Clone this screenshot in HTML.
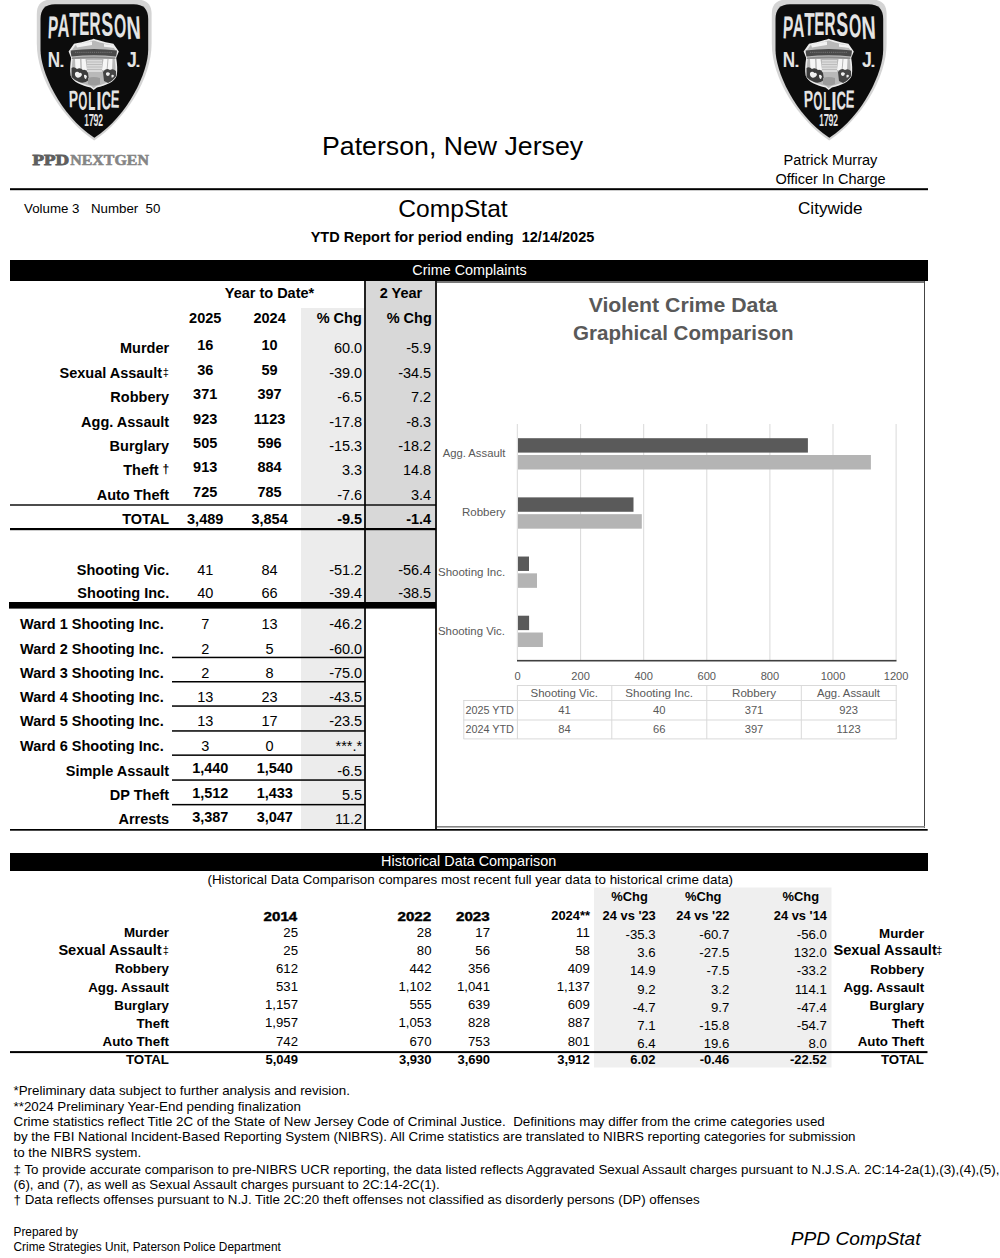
<!DOCTYPE html>
<html><head><meta charset="utf-8"><title>Paterson CompStat</title>
<style>
html,body{margin:0;padding:0;background:#fff;}
body{width:1000px;height:1258px;overflow:hidden;font-family:"Liberation Sans", sans-serif;}
svg{display:block;}
</style></head><body>
<svg width="1000" height="1258" viewBox="0 0 1000 1258" font-family="Liberation Sans, sans-serif">
<rect x="0" y="0" width="1000" height="1258" fill="#fff"/>
<g transform="translate(0,0)">
<path d="M36.8,43.5 L36.8,14 C36.8,4 42,-0.5 52,-0.5 L136.4,-0.5 C146.4,-0.5 151.6,4 151.6,14 L151.6,43.5 C151.6,78.7 125.64,119 94.2,140.6 C62.76,119 36.8,78.7 36.8,43.5 Z" fill="#d4d4d4"/>
<path d="M40.5,49.8 L40.5,19 C40.5,9 45.5,4.3 55,4.3 L133.7,4.3 C143.2,4.3 148.2,9 148.2,19 L148.2,49.8 C148.2,70.9 129.35,115 94.35,137.7 C59.35,115 40.5,70.9 40.5,49.8 Z" fill="#0c0c0c"/>
<text transform="translate(52.85,38.50) rotate(2.5) scale(0.479,1) translate(-11.16,0)" font-size="31.88" font-weight="bold" fill="#e4e4e4">P</text>
<text transform="translate(63.30,37.00) rotate(1.5) scale(0.503,1) translate(-11.74,0)" font-size="32.61" font-weight="bold" fill="#e4e4e4">A</text>
<text transform="translate(74.20,35.50) rotate(0.8) scale(0.520,1) translate(-9.95,0)" font-size="32.61" font-weight="bold" fill="#e4e4e4">T</text>
<text transform="translate(84.55,35.00) rotate(0.3) scale(0.461,1) translate(-11.33,0)" font-size="32.61" font-weight="bold" fill="#e4e4e4">E</text>
<text transform="translate(95.50,35.00) rotate(-0.3) scale(0.473,1) translate(-12.47,0)" font-size="32.61" font-weight="bold" fill="#e4e4e4">R</text>
<text transform="translate(107.30,35.60) rotate(-0.8) scale(0.530,1) translate(-11.00,0)" font-size="33.33" font-weight="bold" fill="#e4e4e4">S</text>
<text transform="translate(120.30,37.20) rotate(-1.5) scale(0.483,1) translate(-12.69,0)" font-size="32.75" font-weight="bold" fill="#e4e4e4">O</text>
<text transform="translate(134.00,39.00) rotate(-2.5) scale(0.603,1) translate(-11.74,0)" font-size="32.61" font-weight="bold" fill="#e4e4e4">N</text>
<text transform="translate(73.80,107.00) rotate(-1.5) scale(0.591,1) translate(-8.32,0)" font-size="23.77" font-weight="bold" fill="#e4e4e4">P</text>
<text transform="translate(82.90,109.80) rotate(-0.8) scale(0.441,1) translate(-10.11,0)" font-size="26.09" font-weight="bold" fill="#e4e4e4">O</text>
<text transform="translate(92.00,110.40) scale(0.462,1) translate(-8.13,0)" font-size="25.22" font-weight="bold" fill="#e4e4e4">L</text>
<text transform="translate(99.00,110.30) scale(0.770,1) translate(-3.45,0)" font-size="25.07" font-weight="bold" fill="#e4e4e4">I</text>
<text transform="translate(106.20,109.40) rotate(0.8) scale(0.503,1) translate(-9.37,0)" font-size="25.51" font-weight="bold" fill="#e4e4e4">C</text>
<text transform="translate(115.10,107.60) rotate(1.5) scale(0.525,1) translate(-8.66,0)" font-size="24.93" font-weight="bold" fill="#e4e4e4">E</text>
<text transform="translate(53.85,67.20) scale(0.793,1) translate(-7.77,0)" font-size="21.59" font-weight="bold" fill="#e4e4e4">N</text>
<text transform="translate(62.05,67.20) scale(1.258,1) translate(-2.15,0)" font-size="15.33" font-weight="bold" fill="#e4e4e4">.</text>
<text transform="translate(131.40,67.20) scale(0.819,1) translate(-5.45,0)" font-size="21.59" font-weight="bold" fill="#e4e4e4">J</text>
<text transform="translate(137.95,67.20) scale(1.258,1) translate(-2.15,0)" font-size="15.33" font-weight="bold" fill="#e4e4e4">.</text>
<text transform="translate(86.70,125.50) scale(0.522,1) translate(-4.66,0)" font-size="15.65" font-weight="bold" fill="#e4e4e4">1</text>
<text transform="translate(91.40,125.50) scale(0.605,1) translate(-4.34,0)" font-size="15.65" font-weight="bold" fill="#e4e4e4">7</text>
<text transform="translate(96.05,125.50) scale(0.566,1) translate(-4.34,0)" font-size="15.65" font-weight="bold" fill="#e4e4e4">9</text>
<text transform="translate(100.65,125.50) scale(0.546,1) translate(-4.30,0)" font-size="15.65" font-weight="bold" fill="#e4e4e4">2</text>
<path d="M93.7,38.8 C89,40.5 80,42.8 74,43.8 L68.6,51.6 L71.2,58 C70.2,64 69.8,70 70.6,75.5 C72.5,82 82,85.5 90.5,87.5 L93.7,90 L96.9,87.5 C105.4,85.5 114.9,82 116.8,75.5 C117.6,70 117.2,64 116.2,58 L118.8,51.6 L113.4,43.8 C107.4,42.8 98.4,40.5 93.7,38.8 Z" fill="#ececec"/>
<path d="M93.7,38.8 C89,40.5 80,42.8 74,43.8 L68.6,51.6 L71.2,58 C70.2,64 69.8,70 70.6,75.5 C72.5,82 82,85.5 90.5,87.5 L93.7,90 L96.9,87.5 C105.4,85.5 114.9,82 116.8,75.5 C117.6,70 117.2,64 116.2,58 L118.8,51.6 L113.4,43.8 C107.4,42.8 98.4,40.5 93.7,38.8 Z" fill="#b9b9b9" transform="translate(93.7,64) scale(0.93) translate(-93.7,-64)"/>
<path d="M76,44.8 Q85,43 92,41.5 L92,45 Q84,46 77,47.5 Z M104,44 Q110,44.6 113,45.5 L114,48 Q109,47 104,46.8 Z" fill="#f2f2f2"/>
<path d="M70.6,50.6 Q93.7,47.6 117,50.6 L116.2,56.6 Q93.7,54 71.4,56.6 Z" fill="#4a4a4a"/>
<path d="M75,52.3 L112,52.3" stroke="#8a8a8a" stroke-width="0.7" stroke-dasharray="1.2,0.9"/>
<path d="M72,57.5 Q93.7,55.6 115.4,57.5 L115.4,59 Q93.7,57.4 72,59 Z" fill="#8c8c8c"/>
<path d="M75,59 L80,59 L80.5,71 L75.5,70 Z M81.5,59 L85.5,59 L87,70 L82,71 Z M103.5,59 L107.5,59 L106.5,71 L102,70 Z M108.5,59 L112.5,59 L112,70 L107.5,71 Z" fill="#f6f6f6"/>
<path d="M87,60 L102,60 L102,72 L87,72 Z" fill="#dadada"/>
<path d="M87,62 L102,62 M87,64.5 L102,64.5 M87,67 L102,67 M87,69.5 L102,69.5" stroke="#a8a8a8" stroke-width="0.6"/>
<path d="M71.5,68 Q74,66 77,69 Q80,67 83,70 Q86,69 88,73 L89,80 Q84,84 79,82 Q74,80 71.5,77 Z" fill="#3c3c3c"/>
<path d="M75,73 Q77,70.5 79.5,73 Q81.5,72 82,75 Q80,78.5 77,77.5 Q74.5,76 75,73 Z M84,75 Q86,74 87,76.5 L86,79 Q84,79 84,75 Z" fill="#f0f0f0"/>
<path d="M103,72 Q106,67 110,70 Q113,68 116,71 L116.2,76 Q113,81 108,83 L104,81 Z" fill="#444"/>
<path d="M106,73 Q108,71.5 110,73.5 Q109.5,76 107.5,76 Q105.5,75.5 106,73 Z M111.5,75 Q113.5,74 114,76 Q113,78 111.5,77.5 Z" fill="#eee"/>
<path d="M88,78 Q93.7,76 100,78 L100,84 Q93.7,87 88,84 Z" fill="#9c9c9c"/>
</g>
<g transform="translate(735,0)">
<path d="M36.8,43.5 L36.8,14 C36.8,4 42,-0.5 52,-0.5 L136.4,-0.5 C146.4,-0.5 151.6,4 151.6,14 L151.6,43.5 C151.6,78.7 125.64,119 94.2,140.6 C62.76,119 36.8,78.7 36.8,43.5 Z" fill="#d4d4d4"/>
<path d="M40.5,49.8 L40.5,19 C40.5,9 45.5,4.3 55,4.3 L133.7,4.3 C143.2,4.3 148.2,9 148.2,19 L148.2,49.8 C148.2,70.9 129.35,115 94.35,137.7 C59.35,115 40.5,70.9 40.5,49.8 Z" fill="#0c0c0c"/>
<text transform="translate(52.85,38.50) rotate(2.5) scale(0.479,1) translate(-11.16,0)" font-size="31.88" font-weight="bold" fill="#e4e4e4">P</text>
<text transform="translate(63.30,37.00) rotate(1.5) scale(0.503,1) translate(-11.74,0)" font-size="32.61" font-weight="bold" fill="#e4e4e4">A</text>
<text transform="translate(74.20,35.50) rotate(0.8) scale(0.520,1) translate(-9.95,0)" font-size="32.61" font-weight="bold" fill="#e4e4e4">T</text>
<text transform="translate(84.55,35.00) rotate(0.3) scale(0.461,1) translate(-11.33,0)" font-size="32.61" font-weight="bold" fill="#e4e4e4">E</text>
<text transform="translate(95.50,35.00) rotate(-0.3) scale(0.473,1) translate(-12.47,0)" font-size="32.61" font-weight="bold" fill="#e4e4e4">R</text>
<text transform="translate(107.30,35.60) rotate(-0.8) scale(0.530,1) translate(-11.00,0)" font-size="33.33" font-weight="bold" fill="#e4e4e4">S</text>
<text transform="translate(120.30,37.20) rotate(-1.5) scale(0.483,1) translate(-12.69,0)" font-size="32.75" font-weight="bold" fill="#e4e4e4">O</text>
<text transform="translate(134.00,39.00) rotate(-2.5) scale(0.603,1) translate(-11.74,0)" font-size="32.61" font-weight="bold" fill="#e4e4e4">N</text>
<text transform="translate(73.80,107.00) rotate(-1.5) scale(0.591,1) translate(-8.32,0)" font-size="23.77" font-weight="bold" fill="#e4e4e4">P</text>
<text transform="translate(82.90,109.80) rotate(-0.8) scale(0.441,1) translate(-10.11,0)" font-size="26.09" font-weight="bold" fill="#e4e4e4">O</text>
<text transform="translate(92.00,110.40) scale(0.462,1) translate(-8.13,0)" font-size="25.22" font-weight="bold" fill="#e4e4e4">L</text>
<text transform="translate(99.00,110.30) scale(0.770,1) translate(-3.45,0)" font-size="25.07" font-weight="bold" fill="#e4e4e4">I</text>
<text transform="translate(106.20,109.40) rotate(0.8) scale(0.503,1) translate(-9.37,0)" font-size="25.51" font-weight="bold" fill="#e4e4e4">C</text>
<text transform="translate(115.10,107.60) rotate(1.5) scale(0.525,1) translate(-8.66,0)" font-size="24.93" font-weight="bold" fill="#e4e4e4">E</text>
<text transform="translate(53.85,67.20) scale(0.793,1) translate(-7.77,0)" font-size="21.59" font-weight="bold" fill="#e4e4e4">N</text>
<text transform="translate(62.05,67.20) scale(1.258,1) translate(-2.15,0)" font-size="15.33" font-weight="bold" fill="#e4e4e4">.</text>
<text transform="translate(131.40,67.20) scale(0.819,1) translate(-5.45,0)" font-size="21.59" font-weight="bold" fill="#e4e4e4">J</text>
<text transform="translate(137.95,67.20) scale(1.258,1) translate(-2.15,0)" font-size="15.33" font-weight="bold" fill="#e4e4e4">.</text>
<text transform="translate(86.70,125.50) scale(0.522,1) translate(-4.66,0)" font-size="15.65" font-weight="bold" fill="#e4e4e4">1</text>
<text transform="translate(91.40,125.50) scale(0.605,1) translate(-4.34,0)" font-size="15.65" font-weight="bold" fill="#e4e4e4">7</text>
<text transform="translate(96.05,125.50) scale(0.566,1) translate(-4.34,0)" font-size="15.65" font-weight="bold" fill="#e4e4e4">9</text>
<text transform="translate(100.65,125.50) scale(0.546,1) translate(-4.30,0)" font-size="15.65" font-weight="bold" fill="#e4e4e4">2</text>
<path d="M93.7,38.8 C89,40.5 80,42.8 74,43.8 L68.6,51.6 L71.2,58 C70.2,64 69.8,70 70.6,75.5 C72.5,82 82,85.5 90.5,87.5 L93.7,90 L96.9,87.5 C105.4,85.5 114.9,82 116.8,75.5 C117.6,70 117.2,64 116.2,58 L118.8,51.6 L113.4,43.8 C107.4,42.8 98.4,40.5 93.7,38.8 Z" fill="#ececec"/>
<path d="M93.7,38.8 C89,40.5 80,42.8 74,43.8 L68.6,51.6 L71.2,58 C70.2,64 69.8,70 70.6,75.5 C72.5,82 82,85.5 90.5,87.5 L93.7,90 L96.9,87.5 C105.4,85.5 114.9,82 116.8,75.5 C117.6,70 117.2,64 116.2,58 L118.8,51.6 L113.4,43.8 C107.4,42.8 98.4,40.5 93.7,38.8 Z" fill="#b9b9b9" transform="translate(93.7,64) scale(0.93) translate(-93.7,-64)"/>
<path d="M76,44.8 Q85,43 92,41.5 L92,45 Q84,46 77,47.5 Z M104,44 Q110,44.6 113,45.5 L114,48 Q109,47 104,46.8 Z" fill="#f2f2f2"/>
<path d="M70.6,50.6 Q93.7,47.6 117,50.6 L116.2,56.6 Q93.7,54 71.4,56.6 Z" fill="#4a4a4a"/>
<path d="M75,52.3 L112,52.3" stroke="#8a8a8a" stroke-width="0.7" stroke-dasharray="1.2,0.9"/>
<path d="M72,57.5 Q93.7,55.6 115.4,57.5 L115.4,59 Q93.7,57.4 72,59 Z" fill="#8c8c8c"/>
<path d="M75,59 L80,59 L80.5,71 L75.5,70 Z M81.5,59 L85.5,59 L87,70 L82,71 Z M103.5,59 L107.5,59 L106.5,71 L102,70 Z M108.5,59 L112.5,59 L112,70 L107.5,71 Z" fill="#f6f6f6"/>
<path d="M87,60 L102,60 L102,72 L87,72 Z" fill="#dadada"/>
<path d="M87,62 L102,62 M87,64.5 L102,64.5 M87,67 L102,67 M87,69.5 L102,69.5" stroke="#a8a8a8" stroke-width="0.6"/>
<path d="M71.5,68 Q74,66 77,69 Q80,67 83,70 Q86,69 88,73 L89,80 Q84,84 79,82 Q74,80 71.5,77 Z" fill="#3c3c3c"/>
<path d="M75,73 Q77,70.5 79.5,73 Q81.5,72 82,75 Q80,78.5 77,77.5 Q74.5,76 75,73 Z M84,75 Q86,74 87,76.5 L86,79 Q84,79 84,75 Z" fill="#f0f0f0"/>
<path d="M103,72 Q106,67 110,70 Q113,68 116,71 L116.2,76 Q113,81 108,83 L104,81 Z" fill="#444"/>
<path d="M106,73 Q108,71.5 110,73.5 Q109.5,76 107.5,76 Q105.5,75.5 106,73 Z M111.5,75 Q113.5,74 114,76 Q113,78 111.5,77.5 Z" fill="#eee"/>
<path d="M88,78 Q93.7,76 100,78 L100,84 Q93.7,87 88,84 Z" fill="#9c9c9c"/>
</g>
<text x="32.6" y="164.5" font-family="Liberation Serif" font-weight="bold" font-size="15.3" textLength="36.6" lengthAdjust="spacingAndGlyphs" fill="#5e5e5e" stroke="#5e5e5e" stroke-width="0.9">PPD</text>
<text x="70.3" y="164.5" font-family="Liberation Serif" font-weight="bold" font-size="15.3" textLength="78.6" lengthAdjust="spacingAndGlyphs" fill="#858585" stroke="#858585" stroke-width="0.6">NEXTGEN</text>
<text x="452.6" y="154.7" font-size="26.7" text-anchor="middle">Paterson, New Jersey</text>
<text x="830.5" y="164.7" font-size="14.55" text-anchor="middle">Patrick Murray</text>
<text x="830.5" y="183.7" font-size="14.5" text-anchor="middle">Officer In Charge</text>
<rect x="10" y="188.2" width="918" height="2" fill="#000"/>
<text x="24" y="212.8" font-size="13.3">Volume 3</text>
<text x="91" y="212.8" font-size="13.3">Number</text>
<text x="145.5" y="212.8" font-size="13.3">50</text>
<text x="453" y="217" font-size="24.6" text-anchor="middle">CompStat</text>
<text x="830.3" y="213.8" font-size="17.1" text-anchor="middle">Citywide</text>
<text x="452.5" y="242.3" font-size="14.5" font-weight="bold" text-anchor="middle" xml:space="preserve">YTD Report for period ending  12/14/2025</text>
<rect x="10" y="260" width="918" height="21" fill="#000"/>
<text x="469.5" y="275" font-size="14.4" text-anchor="middle" fill="#fff">Crime Complaints</text>
<rect x="301" y="308" width="64" height="521" fill="#ececec"/>
<rect x="366" y="281" width="70" height="321" fill="#d8d8d8"/>
<rect x="436" y="281" width="489" height="547" fill="#fff"/>
<rect x="436" y="281" width="489" height="2" fill="#777"/>
<rect x="924" y="281" width="1" height="547" fill="#444"/>
<rect x="436" y="826" width="489" height="1.6" fill="#858585"/>
<rect x="364" y="281" width="2" height="548" fill="#222"/>
<rect x="435" y="281" width="2" height="548" fill="#222"/>
<text x="269.5" y="298" font-size="14.5" font-weight="bold" text-anchor="middle">Year to Date*</text>
<text x="401" y="298" font-size="14.5" font-weight="bold" text-anchor="middle">2 Year</text>
<text x="205.2" y="323" font-size="14.5" font-weight="bold" text-anchor="middle">2025</text>
<text x="269.6" y="323" font-size="14.5" font-weight="bold" text-anchor="middle">2024</text>
<text x="361.8" y="323" font-size="14.5" font-weight="bold" text-anchor="end">% Chg</text>
<text x="431.8" y="323" font-size="14.5" font-weight="bold" text-anchor="end">% Chg</text>
<text x="169.2" y="353.2" font-size="14.5" font-weight="bold" text-anchor="end">Murder</text>
<text x="205.2" y="350.2" font-size="14.5" font-weight="bold" text-anchor="middle">16</text>
<text x="269.6" y="350.2" font-size="14.5" font-weight="bold" text-anchor="middle">10</text>
<text x="362.2" y="353.2" font-size="14.5" text-anchor="end">60.0</text>
<text x="431.2" y="353.2" font-size="14.5" text-anchor="end">-5.9</text>
<text x="162.1" y="377.65" font-size="14.5" font-weight="bold" text-anchor="end">Sexual Assault</text>
<text x="165.9" y="376.25" font-size="11" text-anchor="middle">‡</text>
<text x="205.2" y="374.65" font-size="14.5" font-weight="bold" text-anchor="middle">36</text>
<text x="269.6" y="374.65" font-size="14.5" font-weight="bold" text-anchor="middle">59</text>
<text x="362.2" y="377.65" font-size="14.5" text-anchor="end">-39.0</text>
<text x="431.2" y="377.65" font-size="14.5" text-anchor="end">-34.5</text>
<text x="169.2" y="402.1" font-size="14.5" font-weight="bold" text-anchor="end">Robbery</text>
<text x="205.2" y="399.1" font-size="14.5" font-weight="bold" text-anchor="middle">371</text>
<text x="269.6" y="399.1" font-size="14.5" font-weight="bold" text-anchor="middle">397</text>
<text x="362.2" y="402.1" font-size="14.5" text-anchor="end">-6.5</text>
<text x="431.2" y="402.1" font-size="14.5" text-anchor="end">7.2</text>
<text x="169.2" y="426.55" font-size="14.5" font-weight="bold" text-anchor="end">Agg. Assault</text>
<text x="205.2" y="423.55" font-size="14.5" font-weight="bold" text-anchor="middle">923</text>
<text x="269.6" y="423.55" font-size="14.5" font-weight="bold" text-anchor="middle">1123</text>
<text x="362.2" y="426.55" font-size="14.5" text-anchor="end">-17.8</text>
<text x="431.2" y="426.55" font-size="14.5" text-anchor="end">-8.3</text>
<text x="169.2" y="451.0" font-size="14.5" font-weight="bold" text-anchor="end">Burglary</text>
<text x="205.2" y="448.0" font-size="14.5" font-weight="bold" text-anchor="middle">505</text>
<text x="269.6" y="448.0" font-size="14.5" font-weight="bold" text-anchor="middle">596</text>
<text x="362.2" y="451.0" font-size="14.5" text-anchor="end">-15.3</text>
<text x="431.2" y="451.0" font-size="14.5" text-anchor="end">-18.2</text>
<text x="158.7" y="475.45" font-size="14.5" font-weight="bold" text-anchor="end">Theft</text>
<text x="165.8" y="473.25" font-size="12" font-weight="bold" text-anchor="middle">†</text>
<text x="205.2" y="472.45" font-size="14.5" font-weight="bold" text-anchor="middle">913</text>
<text x="269.6" y="472.45" font-size="14.5" font-weight="bold" text-anchor="middle">884</text>
<text x="362.2" y="475.45" font-size="14.5" text-anchor="end">3.3</text>
<text x="431.2" y="475.45" font-size="14.5" text-anchor="end">14.8</text>
<text x="169.2" y="499.9" font-size="14.5" font-weight="bold" text-anchor="end">Auto Theft</text>
<text x="205.2" y="496.9" font-size="14.5" font-weight="bold" text-anchor="middle">725</text>
<text x="269.6" y="496.9" font-size="14.5" font-weight="bold" text-anchor="middle">785</text>
<text x="362.2" y="499.9" font-size="14.5" text-anchor="end">-7.6</text>
<text x="431.2" y="499.9" font-size="14.5" text-anchor="end">3.4</text>
<text x="169.2" y="524" font-size="14.5" font-weight="bold" text-anchor="end">TOTAL</text>
<text x="205.2" y="523.5" font-size="14.5" font-weight="bold" text-anchor="middle">3,489</text>
<text x="269.6" y="523.5" font-size="14.5" font-weight="bold" text-anchor="middle">3,854</text>
<text x="362.2" y="524" font-size="14.5" font-weight="bold" text-anchor="end">-9.5</text>
<text x="431.2" y="524" font-size="14.5" font-weight="bold" text-anchor="end">-1.4</text>
<rect x="10" y="504.3" width="426" height="1.4" fill="#000"/>
<rect x="10" y="528" width="426" height="2.2" fill="#000"/>
<text x="169.2" y="574.5" font-size="14.5" font-weight="bold" text-anchor="end">Shooting Vic.</text>
<text x="205.2" y="574.5" font-size="14.5" text-anchor="middle">41</text>
<text x="269.6" y="574.5" font-size="14.5" text-anchor="middle">84</text>
<text x="362.2" y="574.5" font-size="14.5" text-anchor="end">-51.2</text>
<text x="431.2" y="574.5" font-size="14.5" text-anchor="end">-56.4</text>
<text x="169.2" y="597.7" font-size="14.5" font-weight="bold" text-anchor="end">Shooting Inc.</text>
<text x="205.2" y="597.7" font-size="14.5" text-anchor="middle">40</text>
<text x="269.6" y="597.7" font-size="14.5" text-anchor="middle">66</text>
<text x="362.2" y="597.7" font-size="14.5" text-anchor="end">-39.4</text>
<text x="431.2" y="597.7" font-size="14.5" text-anchor="end">-38.5</text>
<rect x="9" y="602" width="427" height="6.6" fill="#000"/>
<text x="20" y="629.2" font-size="14.5" font-weight="bold">Ward 1 Shooting Inc.</text>
<text x="205.2" y="629.2" font-size="14.5" text-anchor="middle">7</text>
<text x="269.6" y="629.2" font-size="14.5" text-anchor="middle">13</text>
<text x="362.2" y="629.2" font-size="14.5" text-anchor="end">-46.2</text>
<text x="20" y="653.5" font-size="14.5" font-weight="bold">Ward 2 Shooting Inc.</text>
<text x="205.2" y="653.5" font-size="14.5" text-anchor="middle">2</text>
<text x="269.6" y="653.5" font-size="14.5" text-anchor="middle">5</text>
<text x="362.2" y="653.5" font-size="14.5" text-anchor="end">-60.0</text>
<text x="20" y="677.8" font-size="14.5" font-weight="bold">Ward 3 Shooting Inc.</text>
<text x="205.2" y="677.8" font-size="14.5" text-anchor="middle">2</text>
<text x="269.6" y="677.8" font-size="14.5" text-anchor="middle">8</text>
<text x="362.2" y="677.8" font-size="14.5" text-anchor="end">-75.0</text>
<text x="20" y="702.1" font-size="14.5" font-weight="bold">Ward 4 Shooting Inc.</text>
<text x="205.2" y="702.1" font-size="14.5" text-anchor="middle">13</text>
<text x="269.6" y="702.1" font-size="14.5" text-anchor="middle">23</text>
<text x="362.2" y="702.1" font-size="14.5" text-anchor="end">-43.5</text>
<text x="20" y="726.4" font-size="14.5" font-weight="bold">Ward 5 Shooting Inc.</text>
<text x="205.2" y="726.4" font-size="14.5" text-anchor="middle">13</text>
<text x="269.6" y="726.4" font-size="14.5" text-anchor="middle">17</text>
<text x="362.2" y="726.4" font-size="14.5" text-anchor="end">-23.5</text>
<text x="20" y="750.7" font-size="14.5" font-weight="bold">Ward 6 Shooting Inc.</text>
<text x="205.2" y="750.7" font-size="14.5" text-anchor="middle">3</text>
<text x="269.6" y="750.7" font-size="14.5" text-anchor="middle">0</text>
<text x="362.2" y="750.7" font-size="14.5" text-anchor="end">***.*</text>
<text x="169.2" y="775.6" font-size="14.5" font-weight="bold" text-anchor="end">Simple Assault</text>
<text x="210.3" y="773.1" font-size="14.5" font-weight="bold" text-anchor="middle">1,440</text>
<text x="274.8" y="773.1" font-size="14.5" font-weight="bold" text-anchor="middle">1,540</text>
<text x="362.2" y="775.6" font-size="14.5" text-anchor="end">-6.5</text>
<text x="169.2" y="800" font-size="14.5" font-weight="bold" text-anchor="end">DP Theft</text>
<text x="210.3" y="797.5" font-size="14.5" font-weight="bold" text-anchor="middle">1,512</text>
<text x="274.8" y="797.5" font-size="14.5" font-weight="bold" text-anchor="middle">1,433</text>
<text x="362.2" y="800" font-size="14.5" text-anchor="end">5.5</text>
<text x="169.2" y="824.4" font-size="14.5" font-weight="bold" text-anchor="end">Arrests</text>
<text x="210.3" y="821.9" font-size="14.5" font-weight="bold" text-anchor="middle">3,387</text>
<text x="274.8" y="821.9" font-size="14.5" font-weight="bold" text-anchor="middle">3,047</text>
<text x="362.2" y="824.4" font-size="14.5" text-anchor="end">11.2</text>
<rect x="172" y="656.7" width="193" height="1.5" fill="#000"/>
<rect x="172" y="681" width="193" height="1.5" fill="#000"/>
<rect x="172" y="705.3" width="193" height="1.5" fill="#000"/>
<rect x="172" y="730.2" width="193" height="1.5" fill="#000"/>
<rect x="172" y="754.4" width="193" height="1.5" fill="#000"/>
<rect x="172" y="779.3" width="193" height="1.5" fill="#000"/>
<rect x="172" y="803.9" width="193" height="1.5" fill="#000"/>
<rect x="10" y="829" width="917.7" height="1.7" fill="#000"/>
<text x="683.00" y="312.2" font-size="21" font-weight="bold" text-anchor="middle" fill="#595959" textLength="188.69" lengthAdjust="spacingAndGlyphs">Violent Crime Data</text>
<text x="683.30" y="340.2" font-size="21" font-weight="bold" text-anchor="middle" fill="#595959" textLength="220.49" lengthAdjust="spacingAndGlyphs">Graphical Comparison</text>
<rect x="580.1" y="424" width="1" height="236" fill="#d9d9d9"/>
<rect x="643.2" y="424" width="1" height="236" fill="#d9d9d9"/>
<rect x="706.3" y="424" width="1" height="236" fill="#d9d9d9"/>
<rect x="769.4" y="424" width="1" height="236" fill="#d9d9d9"/>
<rect x="832.5" y="424" width="1" height="236" fill="#d9d9d9"/>
<rect x="895.6" y="424" width="1" height="236" fill="#d9d9d9"/>
<rect x="516.8" y="424" width="1" height="236" fill="#d9d9d9"/>
<rect x="517" y="659.9" width="379.5" height="1.6" fill="#404040"/>
<rect x="518" y="438.2" width="289.9" height="14.4" fill="#5a5a5a"/>
<rect x="518" y="455.0" width="352.9" height="14.5" fill="#b4b4b4"/>
<text x="474.00" y="457.3" font-size="11.2" text-anchor="middle" fill="#595959" textLength="62.61" lengthAdjust="spacingAndGlyphs">Agg. Assault</text>
<rect x="518" y="497.37" width="115.5" height="14.4" fill="#5a5a5a"/>
<rect x="518" y="514.17" width="123.8" height="14.5" fill="#b4b4b4"/>
<text x="483.75" y="516.47" font-size="11.2" text-anchor="middle" fill="#595959" textLength="43.51" lengthAdjust="spacingAndGlyphs">Robbery</text>
<rect x="518" y="556.54" width="11" height="14.4" fill="#5a5a5a"/>
<rect x="518" y="573.34" width="19" height="14.5" fill="#b4b4b4"/>
<text x="471.60" y="575.64" font-size="11.2" text-anchor="middle" fill="#595959" textLength="67.21" lengthAdjust="spacingAndGlyphs">Shooting Inc.</text>
<rect x="518" y="615.71" width="11.1" height="14.4" fill="#5a5a5a"/>
<rect x="518" y="632.51" width="24.9" height="14.5" fill="#b4b4b4"/>
<text x="471.50" y="634.81" font-size="11.2" text-anchor="middle" fill="#595959" textLength="67.01" lengthAdjust="spacingAndGlyphs">Shooting Vic.</text>
<text x="517.5" y="680" font-size="11.1" text-anchor="middle" fill="#595959">0</text>
<text x="580.6" y="680" font-size="11.1" text-anchor="middle" fill="#595959">200</text>
<text x="643.7" y="680" font-size="11.1" text-anchor="middle" fill="#595959">400</text>
<text x="706.8" y="680" font-size="11.1" text-anchor="middle" fill="#595959">600</text>
<text x="769.9" y="680" font-size="11.1" text-anchor="middle" fill="#595959">800</text>
<text x="833.0" y="680" font-size="11.1" text-anchor="middle" fill="#595959">1000</text>
<text x="896.1" y="680" font-size="11.1" text-anchor="middle" fill="#595959">1200</text>
<rect x="517" y="685" width="379.5" height="1" fill="#d9d9d9"/>
<rect x="463.5" y="700" width="433" height="1" fill="#d9d9d9"/>
<rect x="463.5" y="719.5" width="433" height="1" fill="#d9d9d9"/>
<rect x="463.5" y="738.4" width="433" height="1" fill="#d9d9d9"/>
<rect x="463.3" y="700" width="1" height="39" fill="#d9d9d9"/>
<rect x="516.9" y="685" width="1" height="54" fill="#d9d9d9"/>
<rect x="611.3" y="685" width="1" height="54" fill="#d9d9d9"/>
<rect x="706.3" y="685" width="1" height="54" fill="#d9d9d9"/>
<rect x="800.8" y="685" width="1" height="54" fill="#d9d9d9"/>
<rect x="895.7" y="685" width="1" height="54" fill="#d9d9d9"/>
<text x="564.20" y="696.8" font-size="11.2" text-anchor="middle" fill="#595959" textLength="67.41" lengthAdjust="spacingAndGlyphs">Shooting Vic.</text>
<text x="659.15" y="696.8" font-size="11.2" text-anchor="middle" fill="#595959" textLength="67.71" lengthAdjust="spacingAndGlyphs">Shooting Inc.</text>
<text x="754.00" y="696.8" font-size="11.2" text-anchor="middle" fill="#595959" textLength="44.01" lengthAdjust="spacingAndGlyphs">Robbery</text>
<text x="848.50" y="696.8" font-size="11.2" text-anchor="middle" fill="#595959" textLength="63.01" lengthAdjust="spacingAndGlyphs">Agg. Assault</text>
<text x="489.65" y="713.9" font-size="11.2" text-anchor="middle" fill="#595959" textLength="48.51" lengthAdjust="spacingAndGlyphs">2025 YTD</text>
<text x="489.65" y="732.9" font-size="11.2" text-anchor="middle" fill="#595959" textLength="48.51" lengthAdjust="spacingAndGlyphs">2024 YTD</text>
<text x="564.4" y="713.9" font-size="11.2" text-anchor="middle" fill="#595959">41</text>
<text x="659.3" y="713.9" font-size="11.2" text-anchor="middle" fill="#595959">40</text>
<text x="754" y="713.9" font-size="11.2" text-anchor="middle" fill="#595959">371</text>
<text x="848.6" y="713.9" font-size="11.2" text-anchor="middle" fill="#595959">923</text>
<text x="564.4" y="732.9" font-size="11.2" text-anchor="middle" fill="#595959">84</text>
<text x="659.3" y="732.9" font-size="11.2" text-anchor="middle" fill="#595959">66</text>
<text x="754" y="732.9" font-size="11.2" text-anchor="middle" fill="#595959">397</text>
<text x="848.6" y="732.9" font-size="11.2" text-anchor="middle" fill="#595959">1123</text>
<rect x="10" y="853" width="918" height="18" fill="#000"/>
<text x="468.7" y="866" font-size="14.4" text-anchor="middle" fill="#fff">Historical Data Comparison</text>
<text x="207.5" y="884" font-size="13.38">(Historical Data Comparison compares most recent full year data to historical crime data)</text>
<rect x="594" y="887.5" width="237.5" height="180" fill="#efefef"/>
<text x="629.6" y="901.3" font-size="12.9" font-weight="bold" text-anchor="middle">%Chg</text>
<text x="703.2" y="901.3" font-size="12.9" font-weight="bold" text-anchor="middle">%Chg</text>
<text x="800.8" y="901.3" font-size="12.9" font-weight="bold" text-anchor="middle">%Chg</text>
<text x="280.4" y="921" font-size="13.6" font-weight="bold" text-anchor="middle" textLength="33.6" lengthAdjust="spacingAndGlyphs" stroke="#000" stroke-width="0.45">2014</text>
<text x="414.3" y="921" font-size="13.6" font-weight="bold" text-anchor="middle" textLength="33.6" lengthAdjust="spacingAndGlyphs" stroke="#000" stroke-width="0.45">2022</text>
<text x="472.8" y="921" font-size="13.6" font-weight="bold" text-anchor="middle" textLength="33.6" lengthAdjust="spacingAndGlyphs" stroke="#000" stroke-width="0.45">2023</text>
<text x="590" y="920" font-size="12.9" font-weight="bold" text-anchor="end">2024**</text>
<text x="655.8" y="920" font-size="12.9" font-weight="bold" text-anchor="end">24 vs '23</text>
<text x="729.5" y="920" font-size="12.9" font-weight="bold" text-anchor="end">24 vs '22</text>
<text x="827" y="920" font-size="12.9" font-weight="bold" text-anchor="end">24 vs '14</text>
<text x="169.0" y="937.2" font-size="13.3" font-weight="bold" text-anchor="end">Murder</text>
<text x="924.2" y="937.7" font-size="13.3" font-weight="bold" text-anchor="end">Murder</text>
<text x="298" y="936.9" font-size="13.2" text-anchor="end">25</text>
<text x="431.5" y="936.9" font-size="13.2" text-anchor="end">28</text>
<text x="490" y="936.9" font-size="13.2" text-anchor="end">17</text>
<text x="589.8" y="936.9" font-size="13.2" text-anchor="end">11</text>
<text x="655.6" y="939.2" font-size="13.2" text-anchor="end">-35.3</text>
<text x="729.3" y="939.2" font-size="13.2" text-anchor="end">-60.7</text>
<text x="826.8" y="939.2" font-size="13.2" text-anchor="end">-56.0</text>
<text x="161.7" y="955.3" font-size="14.6" font-weight="bold" text-anchor="end">Sexual Assault</text>
<text x="165.9" y="954.0999999999999" font-size="11" text-anchor="middle">‡</text>
<text x="936.8" y="955.3" font-size="14.6" font-weight="bold" text-anchor="end">Sexual Assault</text>
<text x="939.4" y="954.0999999999999" font-size="11" text-anchor="middle">‡</text>
<text x="298" y="955.0" font-size="13.2" text-anchor="end">25</text>
<text x="431.5" y="955.0" font-size="13.2" text-anchor="end">80</text>
<text x="490" y="955.0" font-size="13.2" text-anchor="end">56</text>
<text x="589.8" y="955.0" font-size="13.2" text-anchor="end">58</text>
<text x="655.6" y="957.3" font-size="13.2" text-anchor="end">3.6</text>
<text x="729.3" y="957.3" font-size="13.2" text-anchor="end">-27.5</text>
<text x="826.8" y="957.3" font-size="13.2" text-anchor="end">132.0</text>
<text x="169.0" y="973.4" font-size="13.3" font-weight="bold" text-anchor="end">Robbery</text>
<text x="924.2" y="973.9" font-size="13.3" font-weight="bold" text-anchor="end">Robbery</text>
<text x="298" y="973.1" font-size="13.2" text-anchor="end">612</text>
<text x="431.5" y="973.1" font-size="13.2" text-anchor="end">442</text>
<text x="490" y="973.1" font-size="13.2" text-anchor="end">356</text>
<text x="589.8" y="973.1" font-size="13.2" text-anchor="end">409</text>
<text x="655.6" y="975.4" font-size="13.2" text-anchor="end">14.9</text>
<text x="729.3" y="975.4" font-size="13.2" text-anchor="end">-7.5</text>
<text x="826.8" y="975.4" font-size="13.2" text-anchor="end">-33.2</text>
<text x="169.0" y="991.5" font-size="13.3" font-weight="bold" text-anchor="end">Agg. Assault</text>
<text x="924.2" y="992.0" font-size="13.3" font-weight="bold" text-anchor="end">Agg. Assault</text>
<text x="298" y="991.2" font-size="13.2" text-anchor="end">531</text>
<text x="431.5" y="991.2" font-size="13.2" text-anchor="end">1,102</text>
<text x="490" y="991.2" font-size="13.2" text-anchor="end">1,041</text>
<text x="589.8" y="991.2" font-size="13.2" text-anchor="end">1,137</text>
<text x="655.6" y="993.5" font-size="13.2" text-anchor="end">9.2</text>
<text x="729.3" y="993.5" font-size="13.2" text-anchor="end">3.2</text>
<text x="826.8" y="993.5" font-size="13.2" text-anchor="end">114.1</text>
<text x="169.0" y="1009.6" font-size="13.3" font-weight="bold" text-anchor="end">Burglary</text>
<text x="924.2" y="1010.1" font-size="13.3" font-weight="bold" text-anchor="end">Burglary</text>
<text x="298" y="1009.3" font-size="13.2" text-anchor="end">1,157</text>
<text x="431.5" y="1009.3" font-size="13.2" text-anchor="end">555</text>
<text x="490" y="1009.3" font-size="13.2" text-anchor="end">639</text>
<text x="589.8" y="1009.3" font-size="13.2" text-anchor="end">609</text>
<text x="655.6" y="1011.6" font-size="13.2" text-anchor="end">-4.7</text>
<text x="729.3" y="1011.6" font-size="13.2" text-anchor="end">9.7</text>
<text x="826.8" y="1011.6" font-size="13.2" text-anchor="end">-47.4</text>
<text x="169.0" y="1027.7" font-size="13.3" font-weight="bold" text-anchor="end">Theft</text>
<text x="924.2" y="1028.2" font-size="13.3" font-weight="bold" text-anchor="end">Theft</text>
<text x="298" y="1027.4" font-size="13.2" text-anchor="end">1,957</text>
<text x="431.5" y="1027.4" font-size="13.2" text-anchor="end">1,053</text>
<text x="490" y="1027.4" font-size="13.2" text-anchor="end">828</text>
<text x="589.8" y="1027.4" font-size="13.2" text-anchor="end">887</text>
<text x="655.6" y="1029.7" font-size="13.2" text-anchor="end">7.1</text>
<text x="729.3" y="1029.7" font-size="13.2" text-anchor="end">-15.8</text>
<text x="826.8" y="1029.7" font-size="13.2" text-anchor="end">-54.7</text>
<text x="169.0" y="1045.8" font-size="13.3" font-weight="bold" text-anchor="end">Auto Theft</text>
<text x="924.2" y="1046.3" font-size="13.3" font-weight="bold" text-anchor="end">Auto Theft</text>
<text x="298" y="1045.5" font-size="13.2" text-anchor="end">742</text>
<text x="431.5" y="1045.5" font-size="13.2" text-anchor="end">670</text>
<text x="490" y="1045.5" font-size="13.2" text-anchor="end">753</text>
<text x="589.8" y="1045.5" font-size="13.2" text-anchor="end">801</text>
<text x="655.6" y="1047.8" font-size="13.2" text-anchor="end">6.4</text>
<text x="729.3" y="1047.8" font-size="13.2" text-anchor="end">19.6</text>
<text x="826.8" y="1047.8" font-size="13.2" text-anchor="end">8.0</text>
<rect x="10" y="1051.1" width="917.5" height="2" fill="#000"/>
<text x="169.0" y="1063.9" font-size="13.3" font-weight="bold" text-anchor="end">TOTAL</text>
<text x="924.0" y="1063.9" font-size="13.3" font-weight="bold" text-anchor="end">TOTAL</text>
<text x="298" y="1063.9" font-size="13" font-weight="bold" text-anchor="end">5,049</text>
<text x="431.5" y="1063.9" font-size="13" font-weight="bold" text-anchor="end">3,930</text>
<text x="490" y="1063.9" font-size="13" font-weight="bold" text-anchor="end">3,690</text>
<text x="589.8" y="1063.9" font-size="13" font-weight="bold" text-anchor="end">3,912</text>
<text x="655.6" y="1063.9" font-size="13" font-weight="bold" text-anchor="end">6.02</text>
<text x="729.3" y="1063.9" font-size="13" font-weight="bold" text-anchor="end">-0.46</text>
<text x="826.8" y="1063.9" font-size="13" font-weight="bold" text-anchor="end">-22.52</text>
<text x="13.5" y="1095" font-size="13.37" xml:space="preserve">*Preliminary data subject to further analysis and revision.</text>
<text x="13.5" y="1110.8" font-size="13.37" xml:space="preserve">**2024 Preliminary Year-End pending finalization</text>
<text x="13.5" y="1125.6" font-size="13.37" xml:space="preserve">Crime statistics reflect Title 2C of the State of New Jersey Code of Criminal Justice.  Definitions may differ from the crime categories used</text>
<text x="13.5" y="1141.2" font-size="13.37" xml:space="preserve">by the FBI National Incident-Based Reporting System (NIBRS). All Crime statistics are translated to NIBRS reporting categories for submission</text>
<text x="13.5" y="1156.8" font-size="13.37" xml:space="preserve">to the NIBRS system.</text>
<text x="13.5" y="1173.8" font-size="13.37" xml:space="preserve">‡ To provide accurate comparison to pre-NIBRS UCR reporting, the data listed reflects Aggravated Sexual Assault charges pursuant to N.J.S.A. 2C:14-2a(1),(3),(4),(5),</text>
<text x="13.5" y="1189.3" font-size="13.37" xml:space="preserve">(6), and (7), as well as Sexual Assault charges pursuant to 2C:14-2C(1).</text>
<text x="13.5" y="1203.8" font-size="13.37" xml:space="preserve">† Data reflects offenses pursuant to N.J. Title 2C:20 theft offenses not classified as disorderly persons (DP) offenses</text>
<text x="13.5" y="1235.5" font-size="11.85">Prepared by</text>
<text x="13.5" y="1250.8" font-size="11.85">Crime Strategies Unit, Paterson Police Department</text>
<text x="790.8" y="1245.1" font-size="19.15" font-style="italic">PPD CompStat</text>
</svg>
</body></html>
